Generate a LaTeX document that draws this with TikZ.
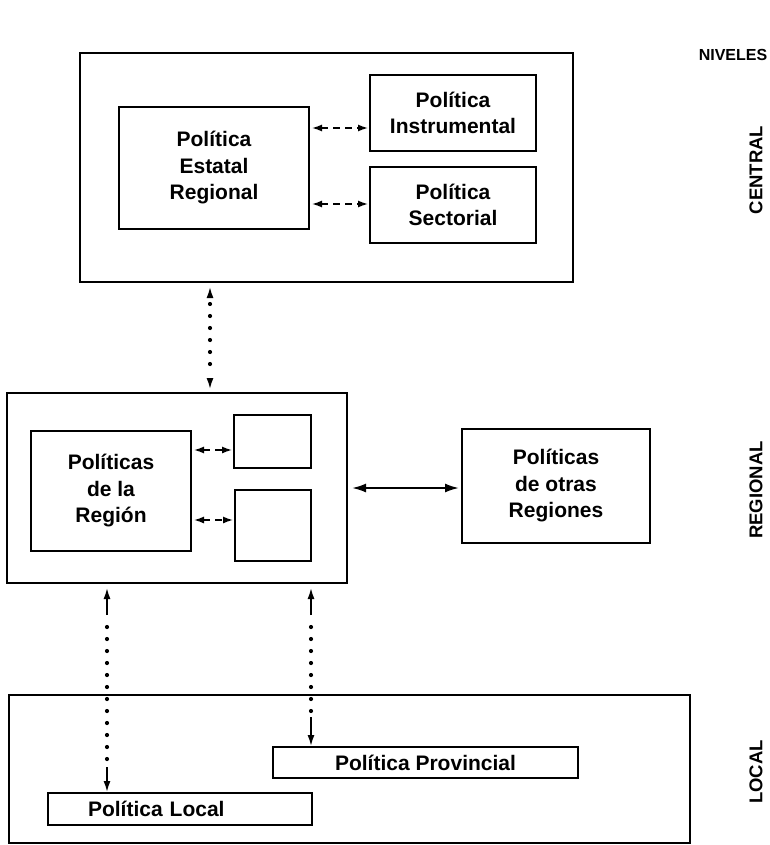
\documentclass[tikz,border=0pt]{standalone}
\usepackage{fontspec}
\setmainfont{Liberation Sans}
\usetikzlibrary{arrows.meta}
\begin{document}
\begin{tikzpicture}[x=1pt,y=-1pt,
  every node/.style={outer sep=0pt, inner sep=0pt, font=\fontsize{21}{26.5}\selectfont\bfseries, align=center},
  box/.style={draw, line width=1.8pt},
  dlink/.style={line width=1.4pt, dash pattern=on 7pt off 5pt, {Latex[length=10pt,width=7pt]}-{Latex[length=10pt,width=7pt]}, shorten <=3pt, shorten >=2pt},
  slink/.style={line width=2pt, {Latex[length=14pt,width=9pt]}-{Latex[length=14pt,width=9pt]}, shorten <=5pt, shorten >=3pt},
  dots/.style={line width=4.2pt, line cap=round, dash pattern=on 0pt off 12pt},
  stem/.style={line width=1.6pt, -{Latex[length=11pt,width=7pt]}},
  level/.style={font=\fontsize{18.5}{22}\selectfont\bfseries, rotate=90}]
\useasboundingbox (0,0) rectangle (769,845);

% Central level
\node[box, minimum width=493pt, minimum height=229pt] (central) at (326.5,167.5) {};
\node[box, minimum width=190pt, minimum height=122pt] (estatal) at (214,168) {Política\\Estatal\\Regional};
\node[box, minimum width=166pt, minimum height=76pt] (instr) at (453,113) {Política\\Instrumental};
\node[box, minimum width=166pt, minimum height=76pt] (sect) at (453,205) {Política\\Sectorial};

% Regional level
\node[box, minimum width=340pt, minimum height=190pt] (regbox) at (177,488) {};
\node[box, minimum width=160pt, minimum height=120pt] (region) at (111,491) {Políticas\\de la\\Región};
\node[box, minimum width=77pt, minimum height=53pt] (blanka) at (272.5,441.5) {};
\node[box, minimum width=76pt, minimum height=71pt] (blankb) at (273,525.5) {};
\node[box, minimum width=188pt, minimum height=114pt] (otras) at (556,486) {Políticas\\de otras\\Regiones};

% Local level
\node[box, minimum width=681pt, minimum height=148pt] (localbox) at (349.5,769) {};
\node[box, minimum width=305pt, minimum height=31pt] (prov) at (425.5,762.5) {Política Provincial};
\node[box, minimum height=32pt, text width=184pt, inner xsep=40pt, align=left] (plocal) at (180,809) {Política Local};

% Level names
\node[font=\fontsize{16}{20}\selectfont\bfseries] (niveles) at (733,55) {NIVELES};
\node[level] (lcentral) at (756,170) {CENTRAL};
\node[level] (lregional) at (756,490) {REGIONAL};
\node[level] (llocal) at (756,772) {LOCAL};

% Links inside the boxes
\draw[dlink] ([yshift=40pt]estatal.east) -- ([yshift=40pt]estatal.east -| instr.west);
\draw[dlink] ([yshift=-36pt]estatal.east) -- ([yshift=-36pt]estatal.east -| sect.west);
\draw[dlink] ([yshift=41pt]region.east) -- ([yshift=41pt]region.east -| blanka.west);
\draw[dlink] ([yshift=-29pt]region.east) -- ([yshift=-29pt]region.east -| blankb.west);
\draw[slink] (regbox.east) -- (regbox.east -| otras.west);

% Links between levels: solid stems at the tips, dots between
\coordinate (ctop) at ([xshift=-4pt]estatal.south |- central.south);
\coordinate (cbot) at (ctop |- regbox.north);
\coordinate (lbot) at ([xshift=59pt]plocal.north west);
\coordinate (ltop) at (lbot |- regbox.south);
\coordinate (pbot) at (blankb.east |- prov.north);
\coordinate (ptop) at (blankb.east |- regbox.south);

\draw[stem] ([yshift=-14pt]ctop) -- ([yshift=-5pt]ctop);
\draw[dots] ([yshift=-22pt]ctop) -- ([yshift=20pt]cbot);
\draw[stem] ([yshift=14pt]cbot) -- ([yshift=4pt]cbot);

\draw[stem] ([yshift=-32pt]ltop) -- ([yshift=-5pt]ltop);
\draw[dots] ([yshift=-44pt]ltop) -- ([yshift=30pt]lbot);
\draw[stem] ([yshift=26pt]lbot) -- ([yshift=1pt]lbot);

\draw[stem] ([yshift=-32pt]ptop) -- ([yshift=-5pt]ptop);
\draw[dots] ([yshift=-44pt]ptop) -- ([yshift=34pt]pbot);
\draw[stem] ([yshift=30pt]pbot) -- ([yshift=1pt]pbot);
\end{tikzpicture}
\end{document}
